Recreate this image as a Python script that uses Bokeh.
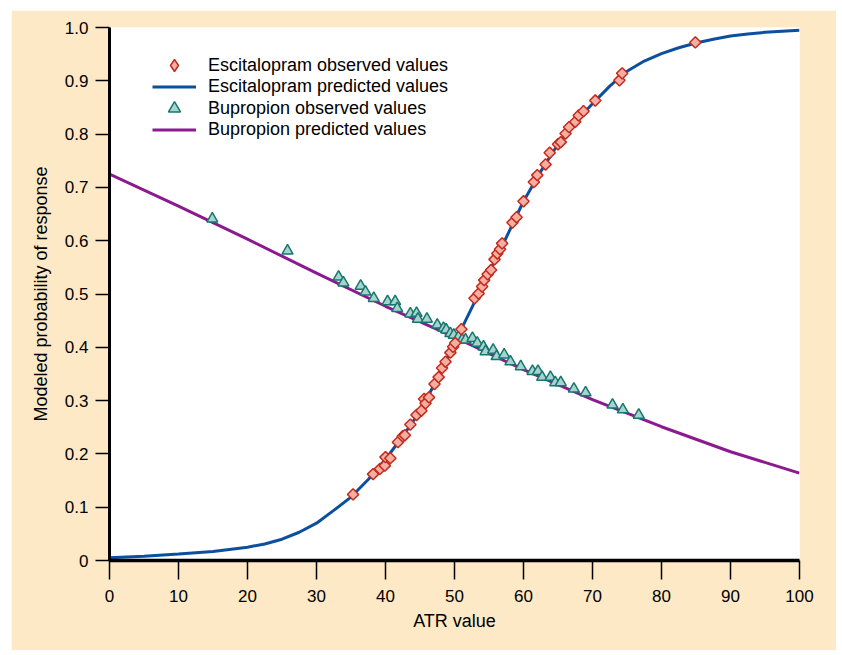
from bokeh.plotting import figure
from bokeh.models import Range1d, FixedTicker, Legend, LegendItem, Spacer
from bokeh.layouts import column, row
from bokeh.embed import file_html
from bokeh.resources import INLINE
import math

# Escitalopram observed values (ATR value, modeled probability)
esc_x = [35.3, 38.2, 39.2, 39.9, 40.0, 40.7, 41.8, 42.5, 42.8, 43.6, 44.5, 45.2, 45.6, 45.8,
         46.3, 47.1, 47.7, 48.2, 48.7, 49.4, 49.8, 50.1, 51.0, 52.9, 53.5, 54.0, 54.3, 54.8,
         55.3, 55.8, 56.2, 56.6, 56.9, 58.4, 59.0, 60.0, 61.5, 62.0, 63.2, 63.8, 65.0, 65.4,
         66.1, 66.6, 67.5, 68.0, 68.7, 70.4, 73.9, 74.3, 84.9]
esc_y = [0.124, 0.162, 0.172, 0.178, 0.194, 0.192, 0.222, 0.233, 0.235, 0.255, 0.273, 0.281, 0.303, 0.295,
         0.306, 0.331, 0.344, 0.361, 0.373, 0.390, 0.401, 0.408, 0.434, 0.492, 0.501, 0.514, 0.526, 0.537,
         0.545, 0.565, 0.576, 0.584, 0.595, 0.634, 0.644, 0.674, 0.710, 0.723, 0.743, 0.765, 0.781, 0.785,
         0.801, 0.813, 0.823, 0.835, 0.843, 0.863, 0.901, 0.914, 0.972]

# Escitalopram predicted values
esc_pred_x = [0, 5, 10, 15, 20, 22.5, 25, 27.5, 30, 32.5, 35, 37.5, 40, 42.5, 45, 47.5, 50,
              52.5, 55, 57.5, 60, 62.5, 65, 67.5, 70, 72.5, 75, 77.5, 80, 82.5, 85, 87.5,
              90, 92.5, 95, 97.5, 100]
esc_pred_y = [0.005, 0.008, 0.012, 0.017, 0.025, 0.031, 0.040, 0.053, 0.070, 0.094, 0.119, 0.152,
              0.190, 0.233, 0.280, 0.341, 0.408, 0.474, 0.540, 0.606, 0.674, 0.730, 0.781, 0.823,
              0.857, 0.890, 0.918, 0.937, 0.951, 0.962, 0.971, 0.978, 0.984, 0.988, 0.991, 0.993,
              0.995]

# Bupropion observed values
bup_x = [14.9, 25.8, 33.2, 33.9, 36.4, 37.1, 38.3, 40.3, 41.4, 41.7, 43.6, 44.5, 44.7, 46.0,
         47.5, 48.4, 48.8, 49.4, 49.9, 50.6, 51.1, 51.6, 52.6, 53.3, 54.2, 54.5, 55.6, 56.1,
         57.2, 58.1, 59.6, 61.3, 62.1, 62.7, 63.9, 64.6, 65.4, 67.3, 69.0, 72.9, 74.4, 76.7]
bup_y = [0.641, 0.581, 0.532, 0.521, 0.515, 0.504, 0.492, 0.486, 0.486, 0.473, 0.463, 0.464, 0.453, 0.453,
         0.442, 0.436, 0.433, 0.426, 0.423, 0.420, 0.414, 0.414, 0.417, 0.408, 0.401, 0.392, 0.395, 0.383,
         0.386, 0.373, 0.364, 0.355, 0.355, 0.344, 0.344, 0.334, 0.334, 0.322, 0.315, 0.292, 0.283, 0.273]

# Bupropion predicted values
bup_pred_x = [0, 10, 20, 30, 40, 50, 60, 70, 80, 90, 100]
bup_pred_y = [0.725, 0.665, 0.603, 0.539, 0.477, 0.419, 0.358, 0.302, 0.251, 0.204, 0.164]

x_ticks = [0, 10, 20, 30, 40, 50, 60, 70, 80, 90, 100]
y_ticks = [0, 0.1, 0.2, 0.3, 0.4, 0.5, 0.6, 0.7, 0.8, 0.9, 1.0]
y_tick_labels = ["0", "0.1", "0.2", "0.3", "0.4", "0.5", "0.6", "0.7", "0.8", "0.9", "1.0"]

BEIGE = "#FDE9C6"
FONT = "Liberation Sans"

p = figure(width=825, height=640, output_backend="svg", toolbar_location=None,
           x_range=Range1d(0, 100), y_range=Range1d(0, 1),
           min_border_left=98, min_border_right=37, min_border_top=17, min_border_bottom=90)
p.border_fill_color = BEIGE
p.background_fill_color = "white"
p.outline_line_color = None
p.xgrid.visible = False
p.ygrid.visible = False

for ax in (p.xaxis[0], p.yaxis[0]):
    ax.axis_line_color = "black"
    ax.major_tick_line_color = "black"
    ax.major_tick_line_width = 1.5
    ax.major_tick_in = 0
    ax.minor_tick_line_color = None
    ax.major_label_text_font = FONT
    ax.major_label_text_font_size = "17px"
    ax.major_label_text_color = "black"
    ax.axis_label_text_font = FONT
    ax.axis_label_text_font_size = "18px"
    ax.axis_label_text_font_style = "normal"
    ax.axis_label_text_color = "black"

p.xaxis.ticker = FixedTicker(ticks=x_ticks)
p.xaxis.axis_line_width = 3.5
p.xaxis.major_tick_out = 19
p.xaxis.major_label_standoff = 10
p.xaxis.axis_label = "ATR value"
p.xaxis.axis_label_standoff = 6

p.yaxis.ticker = FixedTicker(ticks=y_ticks)
p.yaxis.major_label_overrides = {t: l for t, l in zip(y_ticks, y_tick_labels)}
p.yaxis.axis_line_width = 3
p.yaxis.major_tick_out = 14
p.yaxis.major_label_standoff = 7
p.yaxis.axis_label = "Modeled probability of response"
p.yaxis.axis_label_standoff = 11

bup_line = p.line(bup_pred_x, bup_pred_y, line_color="#8B1A8F", line_width=3)
esc_line = p.line(esc_pred_x, esc_pred_y, line_color="#0B4F9E", line_width=3)
bup_pts = p.scatter(bup_x, bup_y, marker="triangle", size=11, fill_color="#A6D3CD",
                    line_color="#17766F", line_width=1.5)
# diamond key for the legend: small copies hidden under the rotated squares
esc_key = p.scatter(esc_x, esc_y, marker="diamond", size=5, fill_color="#F2AFA2",
                    line_color="#C42A1C", line_width=1.5)
esc_pts = p.scatter(esc_x, esc_y, marker="square", angle=math.pi / 4, size=8,
                    fill_color="#F2AFA2", line_color="#C42A1C", line_width=1.5)

items = [("Escitalopram observed values", esc_key, 30, 480),
         ("Escitalopram predicted values", esc_line, 21, 463),
         ("Bupropion observed values", bup_pts, 30, 437),
         ("Bupropion predicted values", bup_line, 21, 420)]
for label, rend, gh, ypos in items:
    lg = Legend(items=[LegendItem(label=label, renderers=[rend])], location=(43, ypos))
    lg.glyph_height = gh
    lg.label_height = gh
    lg.border_line_color = None
    lg.background_fill_alpha = 0
    lg.padding = 0
    lg.margin = 0
    lg.spacing = 0
    lg.glyph_width = 44
    lg.label_standoff = 12
    lg.label_text_font = FONT
    lg.label_text_font_size = "18px"
    lg.label_text_color = "black"
    lg.label_text_baseline = "middle"
    p.add_layout(lg)

page = column(Spacer(height=10), row(Spacer(width=11), p))
open("out.html", "w").write(file_html(page, INLINE))
